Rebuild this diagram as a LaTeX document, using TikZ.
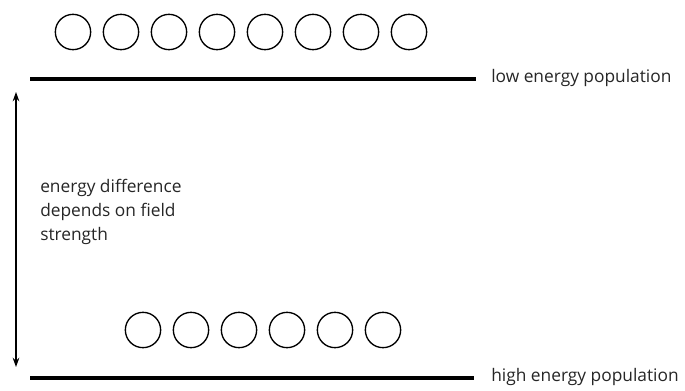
\documentclass[tikz,border=0pt]{standalone}
\usepackage{fontspec}
\setmainfont{Open Sans}
\usetikzlibrary{arrows.meta}
\begin{document}
\begin{tikzpicture}[x=0.75pt,y=-0.75pt,
  particle/.style={circle,draw,line width=1pt,minimum size=26.5pt,inner sep=0pt},
  level/.style={line width=2.3pt},
  lbl/.style={font=\fontsize{13}{18}\selectfont,text=black!85,anchor=west,inner sep=0pt},
  gap/.style={{Stealth[length=7pt,width=5pt]}-{Stealth[length=7pt,width=5pt]},line width=1pt}]
\useasboundingbox (0,0) rectangle (685,390);
\foreach \i in {0,...,7} \node[particle] (t\i) at (73+48*\i,32) {};
\foreach \i in {0,...,5} \node[particle] (b\i) at (143+48*\i,330) {};
\coordinate (l1a) at (30,79);
\coordinate (l1b) at (476,79);
\coordinate (l2a) at (30,378);
\coordinate (l2b) at (474,378);
\draw[level] (l1a) -- (l1b);
\draw[level] (l2a) -- (l2b);
\node[lbl] (low) at (491,78) {low energy population};
\node[lbl] (high) at (491,377) {high energy population};
\coordinate (ga) at (16,92);
\coordinate (gb) at (16,367);
\draw[gap] (ga) -- (gb);
\node[lbl,align=left,anchor=north west] (diff) at (40,179) {energy difference\\depends on field\\strength};
\end{tikzpicture}
\end{document}
